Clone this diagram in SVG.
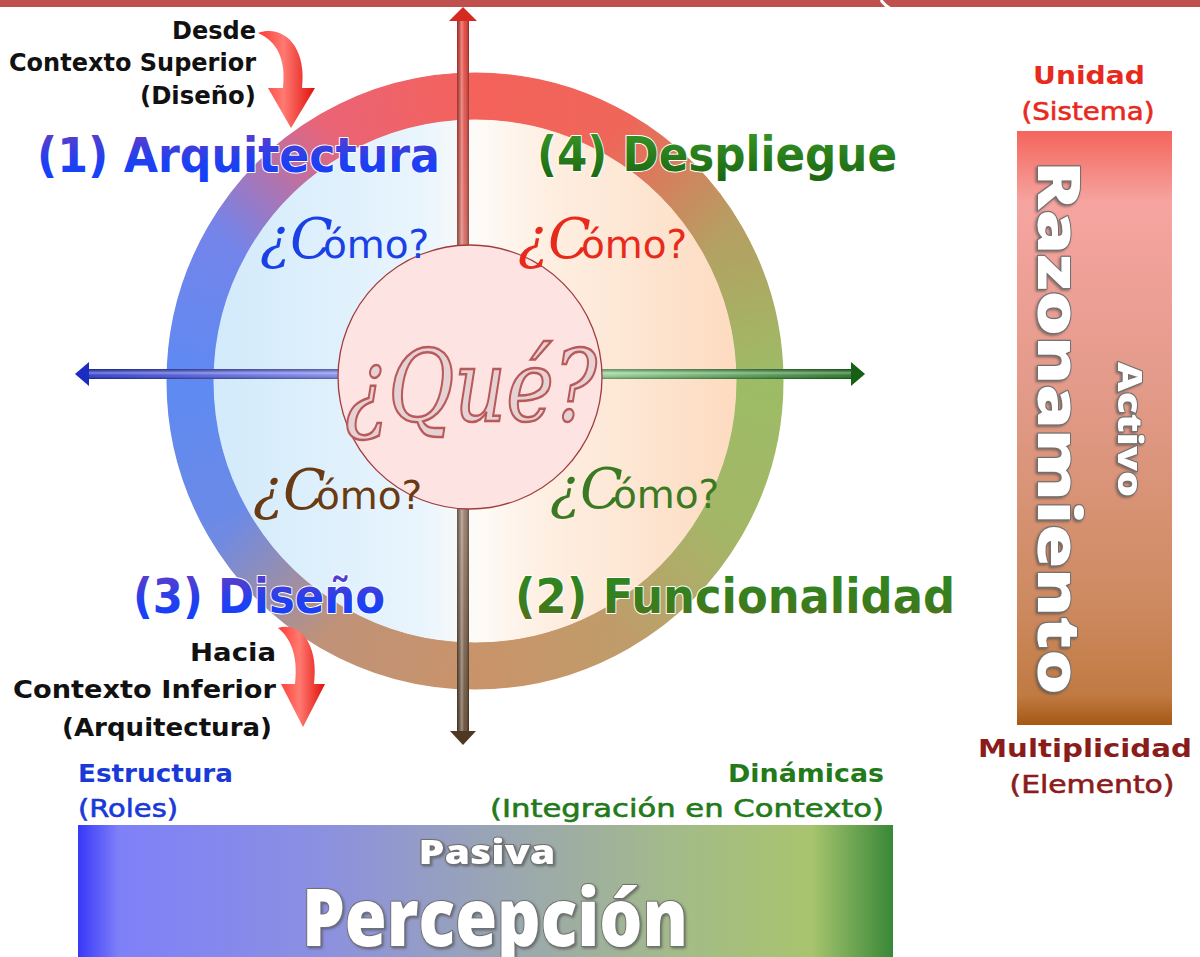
<svg xmlns="http://www.w3.org/2000/svg" width="1200" height="957" viewBox="0 0 1200 957">
<defs>
<style>
.blk{font-family:"DejaVu Sans","Liberation Sans",sans-serif;font-weight:bold;font-size:25px;fill:#111;text-anchor:end}
.big{font-family:"DejaVu Sans","Liberation Sans",sans-serif;font-weight:bold;font-size:48px;stroke:#fff;stroke-width:2;paint-order:stroke;stroke-linejoin:round}
.qc{font-family:"DejaVu Serif","Liberation Serif",serif;font-style:italic;font-size:56px}
.omo{font-family:"DejaVu Sans","Liberation Sans",sans-serif;font-size:39px}
.side{font-family:"DejaVu Sans","Liberation Sans",sans-serif;font-size:25px}
.b{font-weight:bold}
.s{font-weight:normal;stroke-width:0.6}
.wt{fill:#fff;stroke:#707070;stroke-width:2;paint-order:stroke;stroke-linejoin:round;font-family:"Open Sans","Liberation Sans",sans-serif;font-weight:800}
.seg{fill:none;stroke-width:47}
</style>
<filter id="sh" x="-10%" y="-10%" width="120%" height="130%"><feDropShadow dx="1.5" dy="1.5" stdDeviation="1.2" flood-color="#444" flood-opacity="0.6"/></filter>
<linearGradient id="inner" gradientUnits="userSpaceOnUse" x1="213" y1="0" x2="737" y2="0">
<stop offset="0" stop-color="#d2eafb"/><stop offset="0.4" stop-color="#e9f5fd"/><stop offset="0.5" stop-color="#fdfbf8"/><stop offset="0.62" stop-color="#fef0e4"/><stop offset="1" stop-color="#fddbc0"/>
</linearGradient>
<linearGradient id="g0" gradientUnits="userSpaceOnUse" x1="475" y1="96" x2="617.5" y2="134.2"><stop offset="0" stop-color="#f4625b"/><stop offset="1" stop-color="#ef6659"/></linearGradient>
<linearGradient id="g1" gradientUnits="userSpaceOnUse" x1="617.5" y1="134.2" x2="721.8" y2="238.5"><stop offset="0" stop-color="#ef6659"/><stop offset="1" stop-color="#b4a062"/></linearGradient>
<linearGradient id="g2" gradientUnits="userSpaceOnUse" x1="721.8" y1="238.5" x2="760" y2="381"><stop offset="0" stop-color="#b4a062"/><stop offset="1" stop-color="#9dbc66"/></linearGradient>
<linearGradient id="g3" gradientUnits="userSpaceOnUse" x1="760" y1="381" x2="721.8" y2="523.5"><stop offset="0" stop-color="#9dbc66"/><stop offset="1" stop-color="#a3b767"/></linearGradient>
<linearGradient id="g4" gradientUnits="userSpaceOnUse" x1="721.8" y1="523.5" x2="617.5" y2="627.8"><stop offset="0" stop-color="#a3b767"/><stop offset="1" stop-color="#c09c6a"/></linearGradient>
<linearGradient id="g5" gradientUnits="userSpaceOnUse" x1="617.5" y1="627.8" x2="475" y2="666"><stop offset="0" stop-color="#c09c6a"/><stop offset="1" stop-color="#c9936a"/></linearGradient>
<linearGradient id="g6" gradientUnits="userSpaceOnUse" x1="475" y1="666" x2="332.5" y2="627.8"><stop offset="0" stop-color="#c9936a"/><stop offset="1" stop-color="#c09278"/></linearGradient>
<linearGradient id="g7" gradientUnits="userSpaceOnUse" x1="332.5" y1="627.8" x2="228.2" y2="523.5"><stop offset="0" stop-color="#c09278"/><stop offset="1" stop-color="#6c8ae6"/></linearGradient>
<linearGradient id="g8" gradientUnits="userSpaceOnUse" x1="228.2" y1="523.5" x2="190" y2="381"><stop offset="0" stop-color="#6c8ae6"/><stop offset="1" stop-color="#5e8af2"/></linearGradient>
<linearGradient id="g9" gradientUnits="userSpaceOnUse" x1="190" y1="381" x2="228.2" y2="238.5"><stop offset="0" stop-color="#5e8af2"/><stop offset="1" stop-color="#7484ea"/></linearGradient>
<linearGradient id="g10" gradientUnits="userSpaceOnUse" x1="228.2" y1="238.5" x2="332.5" y2="134.2"><stop offset="0" stop-color="#7484ea"/><stop offset="1" stop-color="#ea6476"/></linearGradient>
<linearGradient id="g11" gradientUnits="userSpaceOnUse" x1="332.5" y1="134.2" x2="475" y2="96"><stop offset="0" stop-color="#ea6476"/><stop offset="1" stop-color="#f4625b"/></linearGradient>
<linearGradient id="vax" gradientUnits="userSpaceOnUse" x1="0" y1="7" x2="0" y2="745">
<stop offset="0" stop-color="#e8352e"/><stop offset="0.3" stop-color="#d86258"/><stop offset="0.5" stop-color="#b09088"/><stop offset="0.72" stop-color="#907460"/><stop offset="1" stop-color="#5a4028"/>
</linearGradient>
<linearGradient id="hax" gradientUnits="userSpaceOnUse" x1="75" y1="0" x2="865" y2="0">
<stop offset="0" stop-color="#1e2ec8"/><stop offset="0.32" stop-color="#7c84ee"/><stop offset="0.5" stop-color="#c8c8e8"/><stop offset="0.68" stop-color="#8ed08e"/><stop offset="1" stop-color="#176a17"/>
</linearGradient>
<linearGradient id="shadeV" x1="0" y1="0" x2="1" y2="0">
<stop offset="0" stop-color="#000" stop-opacity="0.3"/><stop offset="0.4" stop-color="#fff" stop-opacity="0.4"/><stop offset="0.6" stop-color="#fff" stop-opacity="0.1"/><stop offset="1" stop-color="#000" stop-opacity="0.35"/>
</linearGradient>
<linearGradient id="shadeH" x1="0" y1="0" x2="0" y2="1">
<stop offset="0" stop-color="#000" stop-opacity="0.3"/><stop offset="0.4" stop-color="#fff" stop-opacity="0.4"/><stop offset="0.6" stop-color="#fff" stop-opacity="0.1"/><stop offset="1" stop-color="#000" stop-opacity="0.35"/>
</linearGradient>
<linearGradient id="redArrow" x1="0" y1="0" x2="1" y2="0">
<stop offset="0" stop-color="#ff3a30"/><stop offset="0.45" stop-color="#ff7a72"/><stop offset="1" stop-color="#e0100a"/>
</linearGradient>
<linearGradient id="blueTxt" x1="0" y1="0" x2="0" y2="1">
<stop offset="0" stop-color="#6a3cc0"/><stop offset="0.6" stop-color="#2040f0"/><stop offset="1" stop-color="#1040ff"/>
</linearGradient>
<linearGradient id="greenTxt" x1="0" y1="0" x2="0" y2="1">
<stop offset="0" stop-color="#3a9a28"/><stop offset="1" stop-color="#1a6410"/>
</linearGradient>
<linearGradient id="funcTxt" x1="0" y1="0" x2="0" y2="1">
<stop offset="0" stop-color="#2a8a22"/><stop offset="0.7" stop-color="#3e7a1c"/><stop offset="1" stop-color="#6a6a18"/>
</linearGradient>
<linearGradient id="rbar" x1="0" y1="0" x2="0" y2="1">
<stop offset="0" stop-color="#f4655c"/><stop offset="0.12" stop-color="#f6a4a0"/><stop offset="0.45" stop-color="#e29a88"/><stop offset="0.8" stop-color="#cd8a60"/><stop offset="0.95" stop-color="#c07a42"/><stop offset="1" stop-color="#a65814"/>
</linearGradient>
<linearGradient id="bbar" x1="0" y1="0" x2="1" y2="0">
<stop offset="0" stop-color="#3838f8"/><stop offset="0.05" stop-color="#7e80f8"/><stop offset="0.3" stop-color="#8c90e0"/><stop offset="0.52" stop-color="#9aa6b2"/><stop offset="0.75" stop-color="#a4bc86"/><stop offset="0.9" stop-color="#a8c46e"/><stop offset="1" stop-color="#388838"/>
</linearGradient>
</defs>

<rect width="1200" height="957" fill="#fff"/>

<g id="topbar">
<rect x="0" y="0" width="1200" height="7" fill="#c0504d"/>
<path d="M881,0 Q884,5 891,9" fill="none" stroke="#fff" stroke-width="3"/>
</g>

<g id="ring">
<circle cx="475" cy="381" r="262" fill="url(#inner)"/>
<circle cx="475" cy="381" r="285" fill="none" stroke="#c08a80" stroke-width="46"/>
<path class="seg" stroke="url(#g0)" d="M475,96 A285,285 0 0 1 617.5,134.2"/>
<path class="seg" stroke="url(#g1)" d="M617.5,134.2 A285,285 0 0 1 721.8,238.5"/>
<path class="seg" stroke="url(#g2)" d="M721.8,238.5 A285,285 0 0 1 760,381"/>
<path class="seg" stroke="url(#g3)" d="M760,381 A285,285 0 0 1 721.8,523.5"/>
<path class="seg" stroke="url(#g4)" d="M721.8,523.5 A285,285 0 0 1 617.5,627.8"/>
<path class="seg" stroke="url(#g5)" d="M617.5,627.8 A285,285 0 0 1 475,666"/>
<path class="seg" stroke="url(#g6)" d="M475,666 A285,285 0 0 1 332.5,627.8"/>
<path class="seg" stroke="url(#g7)" d="M332.5,627.8 A285,285 0 0 1 228.2,523.5"/>
<path class="seg" stroke="url(#g8)" d="M228.2,523.5 A285,285 0 0 1 190,381"/>
<path class="seg" stroke="url(#g9)" d="M190,381 A285,285 0 0 1 228.2,238.5"/>
<path class="seg" stroke="url(#g10)" d="M228.2,238.5 A285,285 0 0 1 332.5,134.2"/>
<path class="seg" stroke="url(#g11)" d="M332.5,134.2 A285,285 0 0 1 475,96"/>
</g>

<g id="connectors">
<g id="axis-vertical">
<rect x="457" y="19" width="12" height="714" fill="url(#vax)"/>
<rect x="457" y="19" width="12" height="714" fill="url(#shadeV)"/>
<polygon points="463,7 477,21 449,21" fill="#d42a22"/>
<polygon points="463,745 476,731 450,731" fill="#4e3824"/>
</g>
<g id="axis-horizontal">
<rect x="87" y="369" width="766" height="10" fill="url(#hax)"/>
<rect x="87" y="369" width="766" height="10" fill="url(#shadeH)"/>
<polygon points="75,374 89,362 89,386" fill="#1c2cc0"/>
<polygon points="865,374 851,362 851,386" fill="#156015"/>
</g>
<path id="arrow-desde" d="M258,33 C283,24 307,46 302,88 L315,88 L291,128 L268,88 L283,88 C286,60 278,42 258,33 Z" fill="url(#redArrow)"/>
<path id="arrow-hacia" d="M278,628 C301,621 319,646 314,684 L325,684 L303,727 L281,684 L295,684 C298,660 293,640 278,628 Z" fill="url(#redArrow)"/>
</g>

<g id="que">
<circle cx="470" cy="377" r="132" fill="#fde3e2" stroke="#a03c3c" stroke-width="1.3"/>
<text x="471" y="421" text-anchor="middle" font-family="DejaVu Serif, Liberation Serif, serif" font-style="italic" font-size="100" textLength="252" lengthAdjust="spacingAndGlyphs" fill="#e6d2d4" stroke="#b85a5a" stroke-width="2.5">¿Qué?</text>
</g>

<g id="q1-arquitectura">
<text class="big" x="37" y="172" textLength="403" lengthAdjust="spacingAndGlyphs" fill="url(#blueTxt)">(1) Arquitectura</text>
<text x="260" y="258" fill="#1a40e6"><tspan class="qc">¿C</tspan><tspan class="omo" dx="-10">ómo?</tspan></text>
</g>
<g id="q4-despliegue">
<text class="big" x="537" y="171" textLength="360" lengthAdjust="spacingAndGlyphs" fill="url(#greenTxt)">(4) Despliegue</text>
<text x="518" y="258" fill="#e82a1a"><tspan class="qc">¿C</tspan><tspan class="omo" dx="-10">ómo?</tspan></text>
</g>
<g id="q3-diseno">
<text class="big" x="133" y="613" textLength="252" lengthAdjust="spacingAndGlyphs" fill="url(#blueTxt)">(3) Diseño</text>
<text x="253" y="509" fill="#6a3a12"><tspan class="qc">¿C</tspan><tspan class="omo" dx="-10">ómo?</tspan></text>
</g>
<g id="q2-funcionalidad">
<text class="big" x="515" y="613" textLength="440" lengthAdjust="spacingAndGlyphs" fill="url(#funcTxt)">(2) Funcionalidad</text>
<text x="550" y="508" fill="#3a7a22"><tspan class="qc">¿C</tspan><tspan class="omo" dx="-10">ómo?</tspan></text>
</g>

<g id="desde">
<text class="blk" x="256" y="39" textLength="84" lengthAdjust="spacingAndGlyphs">Desde</text>
<text class="blk" x="256" y="71" textLength="247" lengthAdjust="spacingAndGlyphs">Contexto Superior</text>
<text class="blk" x="256" y="104" textLength="116" lengthAdjust="spacingAndGlyphs">(Diseño)</text>
</g>
<g id="hacia">
<text class="blk" x="276" y="661" textLength="86" lengthAdjust="spacingAndGlyphs">Hacia</text>
<text class="blk" x="276" y="698" textLength="263" lengthAdjust="spacingAndGlyphs">Contexto Inferior</text>
<text class="blk" x="272" y="736" textLength="210" lengthAdjust="spacingAndGlyphs">(Arquitectura)</text>
</g>

<g id="razonamiento">
<text class="side b" x="1089" y="84" text-anchor="middle" fill="#e8291e" textLength="112" lengthAdjust="spacingAndGlyphs">Unidad</text>
<text class="side s" x="1088" y="120" text-anchor="middle" fill="#e8291e" stroke="#e8291e" textLength="133" lengthAdjust="spacingAndGlyphs">(Sistema)</text>
<rect x="1017" y="131" width="155" height="594" fill="url(#rbar)"/>
<text class="wt" transform="translate(1038,161) rotate(90)" x="0" y="0" font-size="58" textLength="534" lengthAdjust="spacingAndGlyphs" filter="url(#sh)">Razonamiento</text>
<text class="wt" transform="translate(1118,362) rotate(90)" x="0" y="0" font-size="34" textLength="135" lengthAdjust="spacingAndGlyphs" filter="url(#sh)">Activo</text>
<text class="side b" x="1085" y="757" text-anchor="middle" fill="#8a1c1c" textLength="214" lengthAdjust="spacingAndGlyphs">Multiplicidad</text>
<text class="side s" x="1092" y="793" text-anchor="middle" fill="#8a1c1c" stroke="#8a1c1c" textLength="165" lengthAdjust="spacingAndGlyphs">(Elemento)</text>
</g>

<g id="percepcion">
<text class="side b" x="78" y="782" fill="#1a3ad8" textLength="155" lengthAdjust="spacingAndGlyphs">Estructura</text>
<text class="side s" x="78" y="817" fill="#1a3ad8" stroke="#1a3ad8" textLength="100" lengthAdjust="spacingAndGlyphs">(Roles)</text>
<text class="side b" x="884" y="782" text-anchor="end" fill="#237a1a" textLength="156" lengthAdjust="spacingAndGlyphs">Dinámicas</text>
<text class="side s" x="884" y="817" text-anchor="end" fill="#237a1a" stroke="#237a1a" textLength="394" lengthAdjust="spacingAndGlyphs">(Integración en Contexto)</text>
<rect x="78" y="825" width="815" height="140" fill="url(#bbar)"/>
<text class="wt" x="487" y="864" text-anchor="middle" font-size="34" textLength="137" lengthAdjust="spacingAndGlyphs" filter="url(#sh)">Pasiva</text>
<text class="wt" x="495" y="946" text-anchor="middle" font-size="80" textLength="386" lengthAdjust="spacingAndGlyphs" filter="url(#sh)">Percepción</text>
</g>
</svg>
